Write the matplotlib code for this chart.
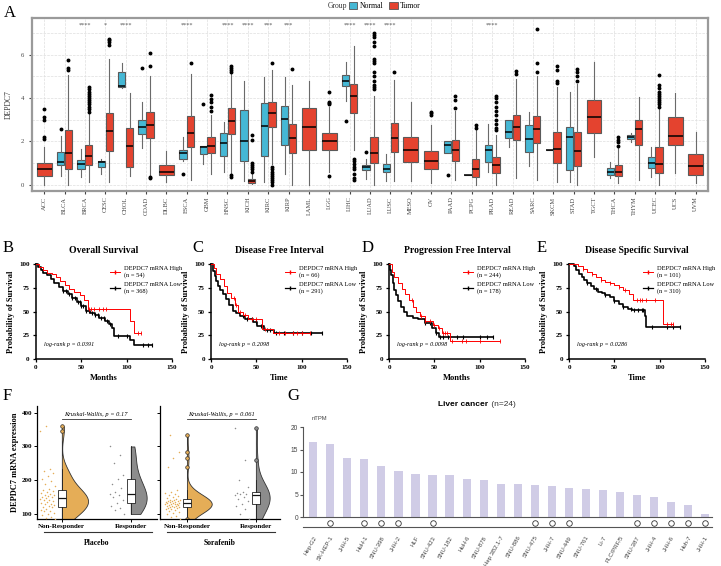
import matplotlib
matplotlib.use("Agg")
import matplotlib.pyplot as plt
import numpy as np
from matplotlib.lines import Line2D
from matplotlib.patches import Patch

plt.rcParams['font.family'] = ['Liberation Serif', 'DejaVu Serif']

# ---------------- panel A data ----------------
cancers = ['ACC', 'BLCA', 'BRCA', 'CESC', 'CHOL', 'COAD', 'DLBC', 'ESCA', 'GBM', 'HNSC', 'KICH',
           'KIRC', 'KIRP', 'LAML', 'LGG', 'LIHC', 'LUAD', 'LUSC', 'MESO', 'OV', 'PAAD', 'PCPG',
           'PRAD', 'READ', 'SARC', 'SKCM', 'STAD', 'TGCT', 'THCA', 'THYM', 'UCEC', 'UCS', 'UVM']
# tumor: lo, q1, med, q3, hi
tumor_box = [(0.0, 0.4, 0.72, 1.0, 1.75), (0.0, 0.72, 1.45, 2.52, 5.05), (0.1, 0.9, 1.33, 1.85, 3.25),
             (0.1, 1.55, 2.47, 3.3, 5.8), (0.4, 0.8, 1.8, 2.6, 4.25), (0.45, 2.15, 2.75, 3.35, 5.0),
             (0.1, 0.45, 0.6, 0.9, 1.55), (0.2, 1.75, 2.4, 3.15, 5.1), (0.5, 1.45, 1.8, 2.2, 3.2),
             (0.55, 2.35, 2.95, 3.55, 5.1), (0.02, 0.08, 0.15, 0.25, 0.5), (0.95, 2.65, 3.3, 3.8, 5.3),
             (0.0, 1.45, 2.15, 2.8, 4.6), (0.0, 1.6, 2.65, 3.55, 4.8), (0.6, 1.6, 2.0, 2.4, 3.6),
             (1.6, 3.3, 4.1, 4.65, 6.4), (0.0, 1.0, 1.45, 2.2, 4.1), (0.15, 1.5, 2.15, 2.85, 4.85),
             (0.15, 1.05, 1.6, 2.2, 3.8), (0.05, 0.7, 1.1, 1.55, 2.75), (0.2, 1.1, 1.6, 2.05, 3.4),
             (0.0, 0.35, 0.7, 1.2, 2.5), (0.0, 0.55, 0.9, 1.25, 2.3), (0.3, 2.05, 2.65, 3.2, 4.9),
             (0.2, 1.9, 2.55, 3.15, 5.0), (0.1, 1.0, 1.65, 2.45, 4.5), (0.0, 0.85, 1.55, 2.45, 4.65),
             (1.25, 2.4, 3.1, 3.9, 5.65), (0.05, 0.4, 0.6, 0.9, 1.7), (0.2, 1.85, 2.55, 3.0, 4.05),
             (0.0, 0.55, 0.95, 1.75, 3.5), (0.55, 1.85, 2.25, 3.1, 4.25), (0.05, 0.45, 0.85, 1.4, 2.45)]
tumor_out = [[2.1, 2.2, 3.0, 3.1, 3.5], [5.3, 5.4, 5.75],
             [3.35, 3.5, 3.6, 3.7, 3.8, 3.9, 4.0, 4.1, 4.2, 4.3, 4.4, 4.5],
             [6.45, 6.6, 6.7, 6.75], [], [0.3, 0.35, 5.5, 6.1], [], [5.6],
             [3.4, 3.6, 3.8, 3.95, 4.15], [0.35, 0.45, 5.2, 5.3, 5.4, 5.5],
             [0.6, 0.7, 0.8, 0.9, 1.0, 2.05, 2.3],
             [0.0, 0.1, 0.2, 0.3, 0.4, 0.5, 0.6, 0.7, 0.8, 5.6], [5.35], [],
             [0.4, 3.7, 3.75, 3.8, 4.3], [0.2, 0.3, 0.5, 0.7, 0.8, 0.95, 1.1, 1.2],
             [4.4, 4.5, 4.6, 4.8, 5.0, 5.2, 5.6, 5.7, 5.8, 6.4, 6.6, 6.8, 6.9, 7.0],
             [5.2], [], [3.2, 3.3, 3.35], [3.55, 3.9, 4.1], [2.6, 2.75],
             [2.5, 2.6, 2.8, 3.0, 3.2, 3.4, 3.6, 3.8, 4.0, 4.1], [5.1, 5.25], [5.2, 5.6, 7.2],
             [4.7, 4.8, 5.3, 5.5], [4.8, 5.0, 5.2, 5.35], [], [1.8, 1.95, 2.05, 2.2], [],
             [3.6, 3.7, 3.8, 3.9, 4.0, 4.1, 4.2, 4.3, 4.45, 4.6, 5.05], [], []]
normal_box = [None, (0.4, 0.9, 1.05, 1.5, 2.25), (0.35, 0.7, 0.95, 1.13, 1.65), (0.5, 0.8, 1.05, 1.1, 1.2),
              (4.45, 4.5, 4.55, 5.2, 5.6), (1.7, 2.35, 2.65, 3.0, 3.8), None, (1.1, 1.2, 1.45, 1.6, 2.2),
              (0.95, 1.4, 1.75, 1.8, 1.8), (0.6, 1.3, 1.9, 2.4, 2.9), (0.15, 1.1, 2.0, 3.45, 4.8),
              (0.1, 1.3, 2.7, 3.75, 4.95), (0.5, 1.85, 3.05, 3.65, 4.95), None, None,
              (3.85, 4.55, 4.8, 5.05, 5.65), (0.25, 0.65, 0.8, 0.9, 1.2), (0.15, 0.6, 0.72, 0.95, 1.4),
              None, None, (1.45, 1.45, 1.85, 2.0, 2.0), (0.42, 0.42, 0.44, 0.45, 0.45),
              (0.6, 1.05, 1.6, 1.85, 2.8), (1.75, 2.15, 2.45, 3.0, 3.0), (0.85, 1.5, 2.1, 2.75, 3.35),
              (1.6, 1.6, 1.6, 1.6, 1.6), (0.1, 0.65, 2.2, 2.65, 4.3), None, (0.3, 0.45, 0.6, 0.75, 1.05),
              (1.95, 2.1, 2.2, 2.3, 2.4), (0.35, 0.75, 1.0, 1.25, 1.75), None, None]
normal_out = [[], [2.55], [], [], [], [5.4], [], [0.5], [3.7], [], [], [], [], [], [], [2.95], [1.5],
              [], [], [], [0.45], [], [], [], [], [], [], [], [], [], [], [], []]
stars = {'BRCA': '****', 'CESC': '*', 'CHOL': '****', 'ESCA': '****', 'HNSC': '****', 'KICH': '****',
         'KIRC': '***', 'KIRP': '***', 'LIHC': '****', 'LUAD': '****', 'LUSC': '****', 'PRAD': '****'}

# ---------------- KM data (B-E) ----------------
os_hi_t = [0, 3, 8, 12, 18, 22, 27, 32, 36, 42, 48, 53, 57, 104, 108, 116]
os_hi_s = [100, 97, 94, 91, 89, 86, 82, 78, 74, 71, 67, 62, 53, 40, 27, 27]
os_hi_c = [58, 61, 64, 70, 74, 77, 112, 116]
os_lo_t = [0, 2, 5, 8, 12, 16, 20, 25, 30, 35, 40, 45, 50, 55, 60, 65, 70, 76, 80, 84, 86, 104, 108, 128]
os_lo_s = [100, 97, 94, 91, 88, 84, 80, 76, 72, 68, 64, 60, 56, 51, 48, 46, 43, 40, 37, 33, 24, 20, 15, 15]
os_lo_c = [30, 33, 36, 40, 43, 46, 48, 50, 52, 55, 58, 62, 65, 68, 72, 75, 78, 82, 90, 100, 118, 123, 128]

dfi_hi_t = [0, 3, 6, 10, 14, 18, 22, 26, 30, 35, 41, 56, 68, 109]
dfi_hi_s = [100, 96, 90, 84, 77, 70, 64, 57, 50, 46, 42, 32, 27, 27]
dfi_hi_c = [25, 28, 32, 38, 45, 50, 60, 75, 82, 90, 95, 100, 109]
dfi_lo_t = [0, 2, 4, 6, 8, 10, 13, 16, 20, 24, 28, 32, 38, 46, 51, 58, 70, 122]
dfi_lo_s = [100, 93, 87, 82, 77, 73, 68, 63, 57, 51, 48, 45, 42, 39, 35, 31, 27, 27]
dfi_lo_c = [35, 40, 45, 50, 55, 62, 65, 72, 80, 90, 100, 110, 122]

pfi_hi_t = [0, 3, 6, 10, 14, 18, 22, 26, 30, 34, 40, 48, 54, 58, 67, 122]
pfi_hi_s = [100, 92, 86, 80, 74, 68, 62, 55, 50, 45, 40, 36, 33, 27, 19, 19]
pfi_hi_c = [25, 35, 40, 45, 50, 55, 60, 62, 64, 70, 80, 85, 100, 122]
pfi_lo_t = [0, 1, 2, 4, 6, 8, 10, 13, 16, 20, 26, 32, 40, 47, 52, 55, 115]
pfi_lo_s = [100, 94, 88, 80, 73, 67, 61, 55, 50, 45, 43, 42, 38, 33, 27, 23, 23]
pfi_lo_c = [40, 45, 52, 56, 60, 65, 75, 82, 100, 108, 115]

dss_hi_t = [0, 10, 15, 20, 25, 30, 35, 40, 45, 50, 55, 60, 66, 71, 104, 115]
dss_hi_s = [100, 98, 95, 92, 89, 86, 83, 81, 80, 78, 76, 73, 68, 62, 37, 37]
dss_hi_c = [15, 25, 35, 45, 55, 62, 75, 78, 80, 85, 95, 108, 112, 115]
dss_lo_t = [0, 5, 8, 11, 14, 17, 20, 24, 28, 32, 36, 40, 45, 50, 55, 60, 65, 70, 84, 85, 122]
dss_lo_s = [100, 98, 94, 90, 86, 83, 80, 77, 74, 71, 69, 67, 65, 61, 58, 55, 53, 52, 45, 34, 34]
dss_lo_c = [20, 30, 40, 50, 60, 68, 72, 76, 80, 82, 91, 108, 115, 122]

# ---------------- F data ----------------
placebo_nr = [85, 88, 92, 96, 100, 104, 108, 110, 113, 116, 120, 122, 124, 126, 128, 130, 132, 134,
              137, 140, 142, 145, 147, 149, 151, 153, 155, 157, 160, 162, 165, 168, 170, 175, 182,
              190, 198, 205, 212, 220, 228, 232, 345, 360]
placebo_r = [100, 112, 118, 125, 132, 140, 150, 155, 158, 165, 178, 190, 205, 215, 250, 275, 300]
sora_nr = [85, 90, 95, 100, 104, 107, 110, 112, 114, 116, 117, 119, 120, 121, 122, 123, 124, 125,
           126, 127, 128, 129, 130, 130, 131, 132, 133, 134, 135, 136, 137, 138, 139, 140, 141, 142,
           143, 146, 150, 152, 155, 158, 162, 166, 172, 240, 265, 285, 335]
sora_r = [85, 100, 115, 125, 130, 138, 145, 150, 155, 158, 160, 163, 165, 180, 200, 260, 355]

# ---------------- G data ----------------
cell_lines = ['Hep-G2', 'SK-HEP-1', 'JHH-5', 'HuH-1', 'SNU-398', 'JHH-2', 'HLF', 'SNU-423', 'SNU-182',
              'HuH-6', 'SNU-878', 'Hep 3B2.1-7', 'SNU-886', 'SNU-475', 'JHH-7', 'SNU-449', 'SNU-761',
              'Li-7', 'PLC/PRF/5', 'SNU-387', 'JHH-4', 'JHH-6', 'Huh-7', 'JHH-1']
ntpm = [16.7, 16.3, 13.2, 13.0, 11.4, 10.3, 9.6, 9.3, 9.3, 8.4, 8.2, 7.4, 7.3, 7.1, 7.0, 6.5, 6.3,
        6.0, 5.6, 4.9, 4.4, 3.4, 2.6, 0.7]
circled = ['SK-HEP-1', 'HuH-1', 'SNU-398', 'JHH-2', 'SNU-423', 'SNU-475', 'JHH-7', 'SNU-449',
           'SNU-387', 'JHH-4', 'JHH-6', 'Huh-7', 'JHH-1']

W, H = 721, 566
fig = plt.figure(figsize=(W / 100, H / 100), dpi=100)


def box(x0, y0, x1, y1):
    return [x0 / W, 1 - y1 / H, (x1 - x0) / W, (y1 - y0) / H]


def letter(x, y, s):
    fig.text(x / W, 1 - y / H, s, fontsize=12, va='center', ha='left')


blue = '#45B8D5'
red = '#E4432F'

# ================= A =================
axA = fig.add_axes(box(32, 18, 708, 191))
n_stats, n_pos, t_stats, t_pos, t_w = [], [], [], [], []
for i, c in enumerate(cancers):
    lo, q1, med, q3, hi = tumor_box[i]
    t_stats.append(dict(whislo=lo, q1=q1, med=med, q3=q3, whishi=hi, fliers=tumor_out[i]))
    if normal_box[i] is None:
        t_pos.append(i + 1)
        t_w.append(0.72)
    else:
        t_pos.append(i + 1.19)
        t_w.append(0.36)
        lo, q1, med, q3, hi = normal_box[i]
        n_stats.append(dict(whislo=lo, q1=q1, med=med, q3=q3, whishi=hi, fliers=normal_out[i]))
        n_pos.append(i + 0.81)

common = dict(patch_artist=True, showcaps=False,
              medianprops=dict(color='black', linewidth=1.1),
              whiskerprops=dict(color='#6a6a6a', linewidth=0.8),
              flierprops=dict(marker='o', markersize=1.8, markerfacecolor='black',
                              markeredgecolor='black', linestyle='none'))
axA.bxp(n_stats, positions=n_pos, widths=0.36,
        boxprops=dict(facecolor=blue, edgecolor='#5a5a5a', linewidth=0.8), **common)
axA.bxp(t_stats, positions=t_pos, widths=t_w,
        boxprops=dict(facecolor=red, edgecolor='#5a5a5a', linewidth=0.8), **common)
for i, c in enumerate(cancers):
    if c in stars:
        axA.text(i + 1, 7.35, stars[c], ha='center', va='center', fontsize=4.5, color='#555')

axA.set_xlim(0.4, 33.6)
axA.set_ylim(-0.3, 7.7)
axA.set_xticks(range(1, 34))
axA.set_xticklabels(cancers, rotation=90, fontsize=4.6, color='#444')
axA.set_yticks([0, 2, 4, 6])
axA.set_yticks([1, 3, 5, 7], minor=True)
axA.tick_params(axis='y', labelsize=4.8, labelcolor='#444', length=2, color='#444')
axA.tick_params(axis='y', which='minor', length=0)
axA.tick_params(axis='x', length=2, color='#444', pad=2)
axA.grid(which='both', ls='--', color='#dedede', lw=0.5)
axA.set_axisbelow(True)
for s in axA.spines.values():
    s.set_color('#9a9a9a')
    s.set_linewidth(1.6)
axA.set_ylabel('DEPDC7', fontsize=5.5, color='#333', labelpad=6)
letter(4, 13, 'A')

fig.text(328 / W, 1 - 6 / H, 'Group', fontsize=5.5, va='center', color='#333')
fig.legend(handles=[Patch(facecolor=blue, edgecolor='#555', lw=0.6),
                    Patch(facecolor=red, edgecolor='#555', lw=0.6)],
           labels=['Normal', 'Tumor'], ncol=2, loc='center left',
           bbox_to_anchor=(349 / W, 1 - 6 / H), frameon=False, fontsize=5.5,
           handlelength=1.1, handleheight=0.9, columnspacing=0.8, handletextpad=0.3,
           borderpad=0, borderaxespad=0)


# ================= B-E =================
def km(x0, title, xlab, hi_t, hi_s, hi_c, lo_t, lo_s, lo_c, n_hi, n_lo, p):
    ax = fig.add_axes(box(x0, 264, x0 + 136, 359))
    ax.step(hi_t, hi_s, where='post', color='red', lw=0.7, clip_on=False, zorder=3)
    ax.step(lo_t, lo_s, where='post', color='black', lw=1.2, clip_on=False)
    yh = np.array(hi_s)[np.searchsorted(hi_t, hi_c, side='right') - 1]
    yl = np.array(lo_s)[np.searchsorted(lo_t, lo_c, side='right') - 1]
    ax.plot(hi_c, yh, '|', color='red', ms=2.5, mew=0.6, clip_on=False, zorder=3)
    ax.plot(lo_c, yl, '|', color='black', ms=2.5, mew=0.8, clip_on=False)
    ax.set_xlim(0, 150)
    ax.set_ylim(0, 100)
    ax.set_xticks([0, 50, 100, 150])
    ax.set_yticks([0, 25, 50, 75, 100])
    for s in ['top', 'right']:
        ax.spines[s].set_visible(False)
    for s in ['left', 'bottom']:
        ax.spines[s].set_linewidth(1.1)
    ax.tick_params(length=2.5, width=0.9, labelsize=5, pad=2)
    for t in ax.get_xticklabels() + ax.get_yticklabels():
        t.set_fontweight('bold')
    ax.set_title(title, fontsize=7, fontweight='bold', pad=8)
    ax.set_xlabel(xlab, fontsize=6, fontweight='bold', labelpad=3)
    ax.set_ylabel('Probability of Survival', fontsize=6, fontweight='bold', labelpad=3)
    hs = [Line2D([0], [0], color='red', lw=0.7, marker='|', ms=3),
          Line2D([0], [0], color='black', lw=0.9, marker='|', ms=3)]
    ax.legend(hs, ['DEPDC7 mRNA High\n(n = %d)' % n_hi, 'DEPDC7 mRNA Low\n(n = %d)' % n_lo],
              loc='upper left', bbox_to_anchor=(0.5, 1.04), frameon=False, fontsize=4.6,
              handlelength=1.6, handletextpad=0.6, labelspacing=0.7)
    ax.text(0.06, 0.15, 'log-rank p = %s' % p, transform=ax.transAxes, fontsize=4.4,
            style='italic', va='center')
    return ax


km(36, 'Overall Survival', 'Months', os_hi_t, os_hi_s, os_hi_c, os_lo_t, os_lo_s, os_lo_c,
   54, 368, '0.0391')
km(211, 'Disease Free Interval', 'Time', dfi_hi_t, dfi_hi_s, dfi_hi_c, dfi_lo_t, dfi_lo_s,
   dfi_lo_c, 66, 291, '0.2098')
km(389, 'Progression Free Interval', 'Months', pfi_hi_t, pfi_hi_s, pfi_hi_c, pfi_lo_t, pfi_lo_s,
   pfi_lo_c, 244, 178, '0.0098')
km(569, 'Disease Specific Survival', 'Time', dss_hi_t, dss_hi_s, dss_hi_c, dss_lo_t, dss_lo_s,
   dss_lo_c, 101, 310, '0.0286')
letter(3, 248, 'B')
letter(192, 248, 'C')
letter(362, 248, 'D')
letter(537, 248, 'E')

# ================= F =================
orange = '#E5AD57'
grey = '#8C8C8C'


def rain(rect, groups, widths, xlim, pval, name, first):
    ax = fig.add_axes(box(*rect))
    cols = [orange, grey]
    for k, vals in enumerate(groups):
        pos = k + 1
        vp = ax.violinplot([vals], positions=[pos], widths=[widths[k]], side='high',
                           showextrema=False)
        for b in vp['bodies']:
            b.set_facecolor(cols[k])
            b.set_edgecolor('#333333')
            b.set_alpha(1)
            b.set_linewidth(0.6)
        ax.boxplot([vals], positions=[pos], widths=0.11, patch_artist=True, showcaps=False,
                   boxprops=dict(facecolor='white', edgecolor='#222', linewidth=0.6),
                   medianprops=dict(color='#111', linewidth=0.9),
                   whiskerprops=dict(color='#222', linewidth=0.6),
                   flierprops=dict(marker='o', markersize=2.6, markerfacecolor=cols[k],
                                   markeredgecolor='#333', markeredgewidth=0.5))
        n = len(vals)
        jit = -0.1 - 0.22 * ((np.arange(n) * 0.618034) % 1)
        ax.scatter(pos + jit, vals, s=1.2, color=cols[k], linewidths=0, zorder=3)
    ax.plot([1, 2], [381, 381], color='#333', lw=0.6)
    ax.text(1.5, 386, 'Kruskal-Wallis, p = %s' % pval, ha='center', va='bottom',
            fontsize=4.6, style='italic')
    ax.set_xlim(*xlim)
    ax.set_ylim(85, 420)
    ax.set_xticks([1, 2])
    ax.set_xticklabels(['Non-Responder', 'Responder'], fontsize=5, fontweight='bold')
    ax.set_yticks([100, 200, 300, 400])
    ax.tick_params(length=2, width=0.7, labelsize=5, pad=1.5)
    for t in ax.get_yticklabels():
        t.set_fontweight('bold')
    for s in ['top', 'right']:
        ax.spines[s].set_visible(False)
    for s in ['left', 'bottom']:
        ax.spines[s].set_linewidth(0.9)
    if not first:
        ax.set_yticklabels([])
    else:
        ax.set_ylabel('DEPDC7 mRNA expression', fontsize=6, fontweight='bold', labelpad=2)
    ax.plot([0.06, 0.96], [-0.115, -0.115], transform=ax.transAxes, color='#333', lw=0.8,
            clip_on=False)
    ax.text(0.5, -0.21, name, transform=ax.transAxes, ha='center', va='center',
            fontsize=5.5, fontweight='bold')


rain((37, 406, 157, 519), [placebo_nr, placebo_r], [0.76, 0.46], (0.64, 2.38), '0.17',
     'Placebo', True)
rain((160, 406, 280, 519), [sora_nr, sora_r], [0.72, 0.4], (0.61, 2.35), '0.061',
     'Sorafenib', False)
letter(3, 396, 'F')

# ================= G =================
axG = fig.add_axes(box(303, 427, 712, 517))
xs = np.arange(len(cell_lines))
axG.bar(xs, ntpm, width=0.48, color='#D0CCE6')
axG.set_xlim(-0.6, 23.4)
axG.set_ylim(0, 20)
axG.set_yticks([0, 5, 10, 15, 20])
for s in ['top', 'right']:
    axG.spines[s].set_visible(False)
for s in ['left', 'bottom']:
    axG.spines[s].set_color('#555')
    axG.spines[s].set_linewidth(0.8)
axG.tick_params(axis='y', labelsize=4.8, labelcolor='#444', length=2, color='#555', pad=1.5)
axG.set_xticks(xs)
axG.set_xticklabels(cell_lines, rotation=60, ha='right', rotation_mode='anchor',
                    fontsize=4.3, color='#444', family='Liberation Sans')
axG.tick_params(axis='x', length=0, pad=13)
for t in axG.get_yticklabels():
    t.set_family('Liberation Sans')
cx = [cell_lines.index(c) for c in circled]
axG.plot(cx, [-0.068] * len(cx), 'o', ms=4, mfc='white', mec='#333', mew=0.6,
         transform=axG.get_xaxis_transform(), clip_on=False)
axG.plot([-0.6, 23.4], [-0.115, -0.115], color='#555', lw=0.8,
         transform=axG.get_xaxis_transform(), clip_on=False)
axG.text(0.02, 1.1, 'nTPM', transform=axG.transAxes, fontsize=4.2, color='#444',
         family='Liberation Sans', va='center')
t1 = fig.text(488 / W, 1 - 405 / H, 'Liver cancer', fontsize=6, fontweight='bold',
              ha='right', va='center', family='Liberation Sans')
fig.text(489 / W, 1 - 405 / H, ' (n=24)', fontsize=6, ha='left', va='center',
         family='Liberation Sans', color='#333')
letter(287, 396, 'G')

fig.savefig('out.png', dpi=100)
